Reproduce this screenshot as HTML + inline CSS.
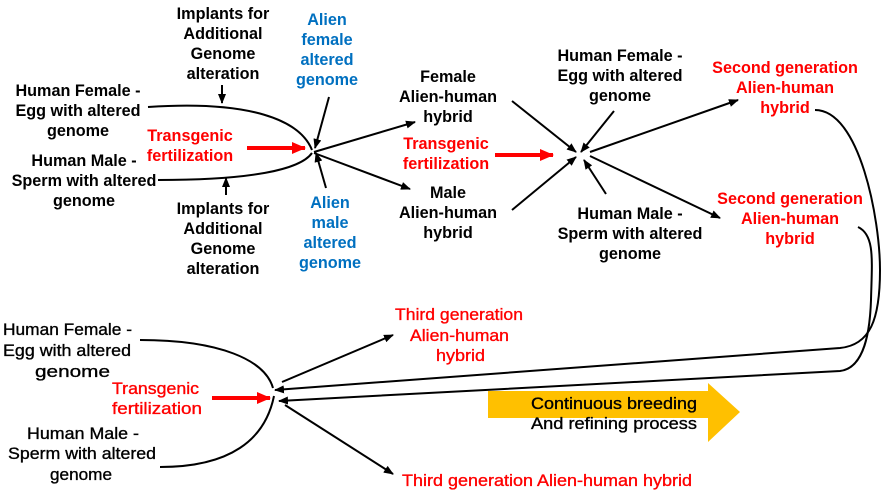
<!DOCTYPE html>
<html><head><style>
html,body{margin:0;padding:0;background:#fff}
svg{display:block}
text{font-family:"Liberation Sans",Arial,sans-serif;font-size:16.2px;font-weight:bold;text-anchor:middle}
.b{fill:#000}.r{fill:#f00}.u{fill:#0070c0}
.n{font-weight:normal;font-size:17px;stroke-width:0.35px}
.n.b{stroke:#000}.n.r{stroke:#f00}
.s{text-anchor:start}
</style></head><body>
<svg width="885" height="492" viewBox="0 0 885 492" xmlns="http://www.w3.org/2000/svg">
<defs>
<marker id="a" markerWidth="10" markerHeight="8" refX="9" refY="4" orient="auto" markerUnits="userSpaceOnUse"><path d="M0,0 L10,4 L0,8 Z" fill="#000"/></marker>
<marker id="ra" markerWidth="14" markerHeight="12" refX="13" refY="6" orient="auto" markerUnits="userSpaceOnUse"><path d="M0,0 L14,6 L0,12 Z" fill="#f00"/></marker>
</defs>
<g fill="none" stroke="#000" stroke-width="2">
<path d="M148,107 C250,100 300,120 312,150"/>
<path d="M158,180 C250,180 300,170 312,153"/>
<line x1="222" y1="85" x2="222" y2="103" marker-end="url(#a)"/>
<line x1="226" y1="195" x2="226" y2="178" marker-end="url(#a)"/>
<line x1="329" y1="97" x2="315" y2="148" marker-end="url(#a)"/>
<line x1="326" y1="188" x2="316" y2="153" marker-end="url(#a)"/>
<line x1="314" y1="152" x2="415" y2="122" marker-end="url(#a)"/>
<line x1="314" y1="153" x2="410" y2="189" marker-end="url(#a)"/>
<line x1="512" y1="101" x2="576" y2="152" marker-end="url(#a)"/>
<line x1="512" y1="210" x2="576" y2="157" marker-end="url(#a)"/>
<line x1="614" y1="111" x2="581" y2="152" marker-end="url(#a)"/>
<line x1="606" y1="194" x2="584" y2="160" marker-end="url(#a)"/>
<line x1="590" y1="152" x2="738" y2="100" marker-end="url(#a)"/>
<line x1="590" y1="156" x2="720" y2="218" marker-end="url(#a)"/>
<path d="M815,110 C860,110 880,220 880,270 C880,320 870,345 840,348 L275,390" marker-end="url(#a)"/>
<path d="M858,227 C875,235 872,260 871,300 C870,330 865,368 840,371 L279,401" marker-end="url(#a)"/>
<path d="M140,340 C220,340 265,360 273,388"/>
<path d="M160,467 C230,467 265,440 274,396"/>
<line x1="282" y1="382" x2="393" y2="335" marker-end="url(#a)"/>
<line x1="285" y1="405" x2="393" y2="474" marker-end="url(#a)"/>
</g>
<g stroke="#f00" stroke-width="4">
<line x1="247" y1="148" x2="305" y2="148" marker-end="url(#ra)"/>
<line x1="495" y1="155" x2="553" y2="155" marker-end="url(#ra)"/>
<line x1="212" y1="398" x2="270" y2="398" marker-end="url(#ra)"/>
</g>
<polygon points="488,391 708,391 708,383 740,412 708,442 708,418 488,418" fill="#ffc000"/>

<text class="b" x="78" y="96">Human Female -</text><text class="b" x="78" y="116">Egg with altered</text><text class="b" x="78" y="136">genome</text>
<text class="b" x="84" y="166">Human Male -</text><text class="b" x="84" y="186">Sperm with altered</text><text class="b" x="84" y="206">genome</text>
<text class="b" x="223" y="19">Implants for</text><text class="b" x="223" y="39">Additional</text><text class="b" x="223" y="59">Genome</text><text class="b" x="223" y="79">alteration</text>
<text class="b" x="223" y="214">Implants for</text><text class="b" x="223" y="234">Additional</text><text class="b" x="223" y="254">Genome</text><text class="b" x="223" y="274">alteration</text>
<text class="u" x="327" y="25">Alien</text><text class="u" x="327" y="45">female</text><text class="u" x="327" y="65">altered</text><text class="u" x="327" y="85">genome</text>
<text class="u" x="330" y="208">Alien</text><text class="u" x="330" y="228">male</text><text class="u" x="330" y="248">altered</text><text class="u" x="330" y="268">genome</text>
<text class="r" x="190" y="141">Transgenic</text><text class="r" x="190" y="161">fertilization</text>
<text class="b" x="448" y="82">Female</text><text class="b" x="448" y="102">Alien-human</text><text class="b" x="448" y="122">hybrid</text>
<text class="b" x="448" y="198">Male</text><text class="b" x="448" y="218">Alien-human</text><text class="b" x="448" y="238">hybrid</text>
<text class="r" x="446" y="149">Transgenic</text><text class="r" x="446" y="169">fertilization</text>
<text class="b" x="620" y="61">Human Female -</text><text class="b" x="620" y="81">Egg with altered</text><text class="b" x="620" y="101">genome</text>
<text class="b" x="630" y="219">Human Male -</text><text class="b" x="630" y="239">Sperm with altered</text><text class="b" x="630" y="259">genome</text>
<text class="r" x="785" y="73">Second generation</text><text class="r" x="785" y="93">Alien-human</text><text class="r" x="785" y="113">hybrid</text>
<text class="r" x="790" y="204">Second generation</text><text class="r" x="790" y="224">Alien-human</text><text class="r" x="790" y="244">hybrid</text>

<text class="n b s" x="3" y="335" textLength="129" lengthAdjust="spacingAndGlyphs">Human Female -</text>
<text class="n b s" x="3" y="356" textLength="128" lengthAdjust="spacingAndGlyphs">Egg with altered</text>
<text class="n b s" x="35" y="377" textLength="75" lengthAdjust="spacingAndGlyphs">genome</text>
<text class="n b s" x="27" y="439" textLength="112" lengthAdjust="spacingAndGlyphs">Human Male -</text>
<text class="n b s" x="8" y="459" textLength="148" lengthAdjust="spacingAndGlyphs">Sperm with altered</text>
<text class="n b s" x="50" y="480" textLength="62" lengthAdjust="spacingAndGlyphs">genome</text>
<text class="n r s" x="112" y="394" textLength="87" lengthAdjust="spacingAndGlyphs">Transgenic</text>
<text class="n r s" x="112" y="414" textLength="90" lengthAdjust="spacingAndGlyphs">fertilization</text>
<text class="n r s" x="395" y="320" textLength="128" lengthAdjust="spacingAndGlyphs">Third generation</text>
<text class="n r s" x="410" y="341" textLength="99" lengthAdjust="spacingAndGlyphs">Alien-human</text>
<text class="n r s" x="436" y="361" textLength="49" lengthAdjust="spacingAndGlyphs">hybrid</text>
<text class="n r s" x="402" y="486" textLength="290" lengthAdjust="spacingAndGlyphs">Third generation Alien-human hybrid</text>
<text class="n b s" x="531" y="409" textLength="166" lengthAdjust="spacingAndGlyphs">Continuous breeding</text>
<text class="n b s" x="531" y="429" textLength="166" lengthAdjust="spacingAndGlyphs">And refining process</text>
</svg>
</body></html>
